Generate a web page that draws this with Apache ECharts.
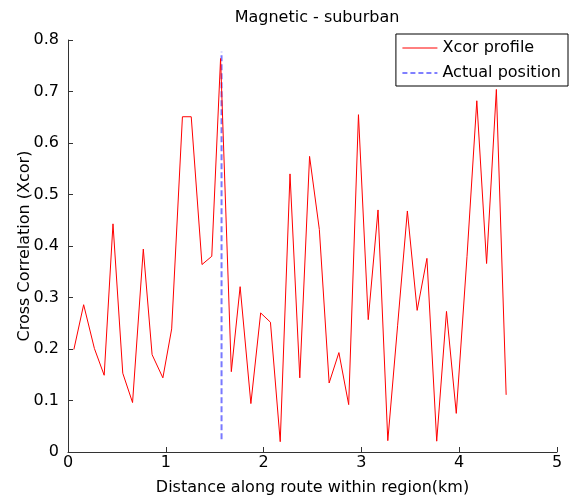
<!DOCTYPE html>
<html>
<head>
<meta charset="utf-8">
<script src="https://cdn.jsdelivr.net/npm/echarts@6/dist/echarts.min.js"></script>
<style>html,body{margin:0;padding:0;background:#fff}#c{width:571px;height:501px}</style>
</head>
<body>
<div id="c"></div>
<script>
// Distance (km) of each Xcor sample
const distanceKm = [0.06,0.16,0.27,0.37,0.46,0.56,0.66,0.77,0.86,0.97,
  1.06,1.17,1.26,1.37,1.47,1.56,1.67,1.76,1.87,1.97,
  2.07,2.17,2.27,2.37,2.47,2.57,2.67,2.77,2.87,2.97,
  3.07,3.17,3.27,3.37,3.47,3.57,3.67,3.77,3.87,3.97,
  4.08,4.18,4.28,4.38,4.48];
// Cross correlation values
const xcorValues = [0.199,0.286,0.201,0.149,0.443,0.153,0.096,0.394,0.189,0.144,
  0.239,0.651,0.651,0.364,0.380,0.764,0.156,0.321,0.094,0.270,
  0.252,0.020,0.540,0.144,0.574,0.432,0.134,0.193,0.092,0.655,
  0.257,0.470,0.022,0.245,0.468,0.275,0.376,0.021,0.273,0.075,
  0.380,0.682,0.366,0.704,0.111];
// Actual position marker
const actualPosX = [1.57, 1.57];
const actualPosY = [0.025, 0.777];
const xTicks = [0,1,2,3,4,5];
const yTicks = [0,0.1,0.2,0.3,0.4,0.5,0.6,0.7,0.8];

const chart = echarts.init(document.getElementById('c'), null, {renderer:'canvas'});
const font = 'DejaVu Sans, sans-serif';
const axisCol = '#333';
const noSym = {color:'rgba(0,0,0,0)', borderColor:'rgba(0,0,0,0)', borderWidth:0};
chart.setOption({
  animation:false,
  backgroundColor:'#fff',
  title:{text:'Magnetic - suburban', left:317, top:10, textAlign:'center', padding:0,
    textStyle:{fontFamily:font, fontSize:16, fontWeight:'normal', color:'#000'}},
  grid:{left:68, right:14, top:40, bottom:43, containLabel:false},
  legend:{orient:'vertical', right:3, top:34, backgroundColor:'#fff',
    borderColor:'#000', borderWidth:1, borderRadius:0, padding:[5,7,4,6],
    itemWidth:35, itemHeight:14, itemGap:7,
    textStyle:{fontFamily:font, fontSize:16, color:'#000', lineHeight:18},
    data:[{name:'Xcor profile', lineStyle:{color:'#ff0000', width:1}, itemStyle:noSym},
          {name:'Actual position', lineStyle:{color:'#0000ff', width:1, type:[5,3]}, itemStyle:noSym}]},
  xAxis:{type:'value', min:xTicks[0], max:xTicks[xTicks.length-1], interval:1,
    name:'Distance along route within region(km)', nameLocation:'middle', nameGap:28,
    nameMoveOverlap:false,
    nameTextStyle:{fontFamily:font, fontSize:16, color:'#000'},
    axisLine:{lineStyle:{color:axisCol}}, axisTick:{inside:true, length:5, lineStyle:{color:axisCol}},
    axisLabel:{fontFamily:font, fontSize:16, color:'#000', margin:3},
    splitLine:{show:false}},
  yAxis:{type:'value', min:yTicks[0], max:yTicks[yTicks.length-1], interval:0.1,
    name:'Cross Correlation (Xcor)', nameLocation:'middle', nameGap:35,
    nameMoveOverlap:false,
    nameTextStyle:{fontFamily:font, fontSize:16, color:'#000'},
    axisLine:{show:true, lineStyle:{color:axisCol}}, axisTick:{show:true, inside:true, length:5, lineStyle:{color:axisCol}},
    axisLabel:{fontFamily:font, fontSize:16, color:'#000', margin:9,
      formatter:v=>String(Math.round(v*10)/10)},
    splitLine:{show:false}},
  series:[
    {name:'Actual position', type:'line', symbol:'none', z:1,
      data:actualPosX.map((x,i)=>[x, actualPosY[i]]),
      lineStyle:{color:'#7878ff', width:2, type:[6,3]}},
    {name:'Xcor profile', type:'line', symbol:'none', z:2,
      data:distanceKm.map((x,i)=>[x, xcorValues[i]]),
      lineStyle:{color:'#ff0000', width:1}}
  ]
});
</script>
</body>
</html>
